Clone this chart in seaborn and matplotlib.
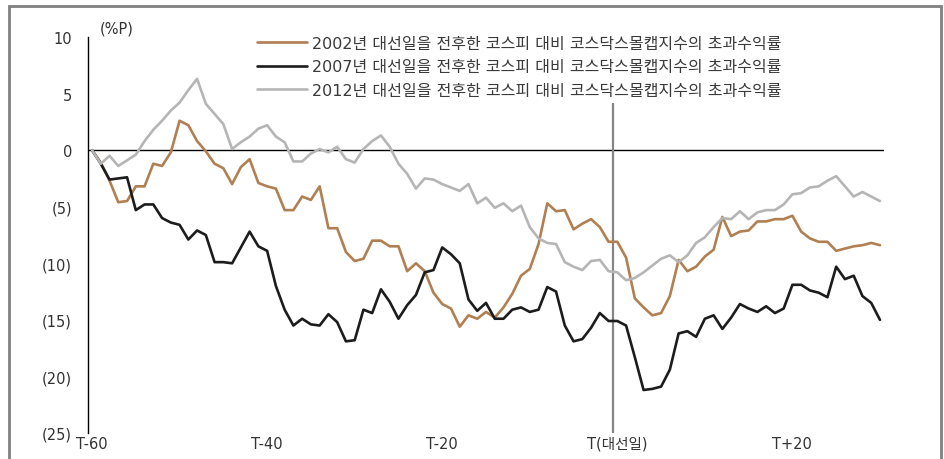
import matplotlib
matplotlib.use("Agg")
import matplotlib.pyplot as plt
import seaborn as sns
import pandas as pd
from matplotlib.patches import Rectangle

# 대선일 기준 거래일 (T-60 ~ T+30)
days = list(range(-60, 31))

excess_2002 = [0, -1.1, -2.7, -4.6, -4.5, -3.2, -3.2, -1.2, -1.4, -0.2,
               2.6, 2.2, 0.8, -0.1, -1.2, -1.6, -3.0, -1.5, -0.8, -2.9,
               -3.2, -3.4, -5.3, -5.3, -4.1, -4.4, -3.2, -6.9, -6.9, -9.0,
               -9.8, -9.6, -8.0, -8.0, -8.5, -8.5, -10.7, -10.0, -10.7, -12.6,
               -13.6, -14.0, -15.6, -14.6, -14.9, -14.3, -14.8, -13.9, -12.7, -11.1,
               -10.5, -8.3, -4.7, -5.4, -5.3, -7.0, -6.5, -6.1, -6.8, -8.1,
               -8.1, -9.5, -13.1, -13.9, -14.6, -14.4, -12.9, -9.7, -10.7, -10.3,
               -9.4, -8.8, -5.9, -7.6, -7.2, -7.1, -6.3, -6.3, -6.1, -6.1,
               -5.8, -7.2, -7.8, -8.1, -8.1, -8.9, -8.7, -8.5, -8.4, -8.2,
               -8.4]

excess_2007 = [0, -1.2, -2.6, -2.5, -2.4, -5.3, -4.8, -4.8, -6.0, -6.4,
               -6.6, -7.9, -7.1, -7.5, -9.9, -9.9, -10.0, -8.6, -7.2, -8.5,
               -8.9, -12.0, -14.1, -15.5, -14.9, -15.4, -15.5, -14.5, -15.2, -16.9,
               -16.8, -14.1, -14.4, -12.3, -13.4, -14.9, -13.7, -12.8, -10.8, -10.6,
               -8.6, -9.2, -10.0, -13.2, -14.2, -13.5, -14.9, -14.9, -14.1, -13.9,
               -14.3, -14.1, -12.1, -12.5, -15.5, -16.9, -16.7, -15.7, -14.4, -15.1,
               -15.1, -15.5, -18.3, -21.2, -21.1, -20.9, -19.4, -16.2, -16.0, -16.5,
               -14.9, -14.6, -15.8, -14.8, -13.6, -14.0, -14.3, -13.8, -14.4, -14.0,
               -11.9, -11.9, -12.4, -12.6, -13.0, -10.3, -11.4, -11.1, -12.9, -13.5,
               -15.0]

excess_2012 = [0, -1.2, -0.5, -1.4, -0.9, -0.4, 0.8, 1.8, 2.6, 3.5,
               4.2, 5.3, 6.3, 4.1, 3.2, 2.3, 0.1, 0.7, 1.2, 1.9,
               2.2, 1.2, 0.7, -1.0, -1.0, -0.3, 0.1, -0.2, 0.3, -0.8,
               -1.1, 0.1, 0.8, 1.3, 0.3, -1.2, -2.1, -3.4, -2.5, -2.6,
               -3.0, -3.3, -3.6, -3.0, -4.7, -4.2, -5.1, -4.7, -5.4, -4.9,
               -6.8, -7.8, -8.2, -8.3, -9.9, -10.3, -10.6, -9.8, -9.7, -10.7,
               -10.8, -11.5, -11.3, -10.8, -10.2, -9.6, -9.3, -9.9, -9.3, -8.2,
               -7.7, -6.8, -6.0, -6.1, -5.4, -6.1, -5.5, -5.3, -5.3, -4.8,
               -3.9, -3.8, -3.3, -3.2, -2.7, -2.3, -3.2, -4.1, -3.7, -4.1,
               -4.5]

series_names = [
    "2002년 대선일을 전후한 코스피 대비 코스닥스몰캡지수의 초과수익률",
    "2007년 대선일을 전후한 코스피 대비 코스닥스몰캡지수의 초과수익률",
    "2012년 대선일을 전후한 코스피 대비 코스닥스몰캡지수의 초과수익률",
]
series_colors = ["#b07f52", "#1c1c1c", "#b5b5b5"]

x_tick_days = [-60, -40, -20, 0, 20]
x_tick_labels = ["T-60", "T-40", "T-20", "T(대선일)", "T+20"]
y_ticks = [10, 5, 0, -5, -10, -15, -20, -25]
y_tick_labels = ["10", "5", "0", "(5)", "(10)", "(15)", "(20)", "(25)"]

df = pd.DataFrame({
    "day": days * 3,
    "value": excess_2002 + excess_2007 + excess_2012,
    "series": [series_names[0]] * len(days) + [series_names[1]] * len(days)
              + [series_names[2]] * len(days),
})

sns.set_style("white")
plt.rcParams["font.family"] = ["DejaVu Sans", "Noto Sans CJK KR"]

fig = plt.figure(figsize=(9.44, 4.6), dpi=100)
ax = fig.add_axes([88 / 944, 1 - 434 / 460, 796 / 944, 396 / 460])

sns.lineplot(data=df, x="day", y="value", hue="series", hue_order=series_names,
             palette=series_colors, linewidth=1.9, ax=ax)

# 기준선
ax.axhline(0, color="black", lw=1.0, zorder=1)
ax.vlines(-0.45, -25, 4.2, color="#858585", lw=1.6, zorder=1)

ax.set_xlim(-60.46, 30.46)
ax.set_ylim(-25, 10)
ax.set_xticks(x_tick_days)
ax.set_xticklabels(x_tick_labels, fontsize=10.5, color="#333333")
ax.set_yticks(y_ticks)
ax.set_yticklabels(y_tick_labels, fontsize=10.5, color="#333333")
ax.tick_params(axis="x", length=0, pad=2)
ax.tick_params(axis="y", direction="in", length=4, width=0.8, pad=11.5)
ax.set_xlabel("")
ax.set_ylabel("")
for side in ["top", "right", "bottom"]:
    ax.spines[side].set_visible(False)
ax.spines["left"].set_color("black")
ax.spines["left"].set_linewidth(1.0)

fig.text(117 / 944, 1 - 29 / 460, "(%P)", ha="center", va="center",
         fontsize=10.5, color="#333333")

ax.legend(loc="upper left", bbox_to_anchor=(257 / 944, 1 - 37 / 460),
          bbox_transform=fig.transFigure, frameon=False, fontsize=11.5,
          handlelength=3.1, handletextpad=0.35, labelspacing=0.53,
          borderpad=0, borderaxespad=0, labelcolor="#3a3a3a")

fig.patches.append(Rectangle((8.5 / 944, -0.05), 932 / 944, 1.05 - 7 / 460,
                             transform=fig.transFigure, fill=False,
                             edgecolor="#808080", lw=2))

fig.savefig("out.png", dpi=100)
